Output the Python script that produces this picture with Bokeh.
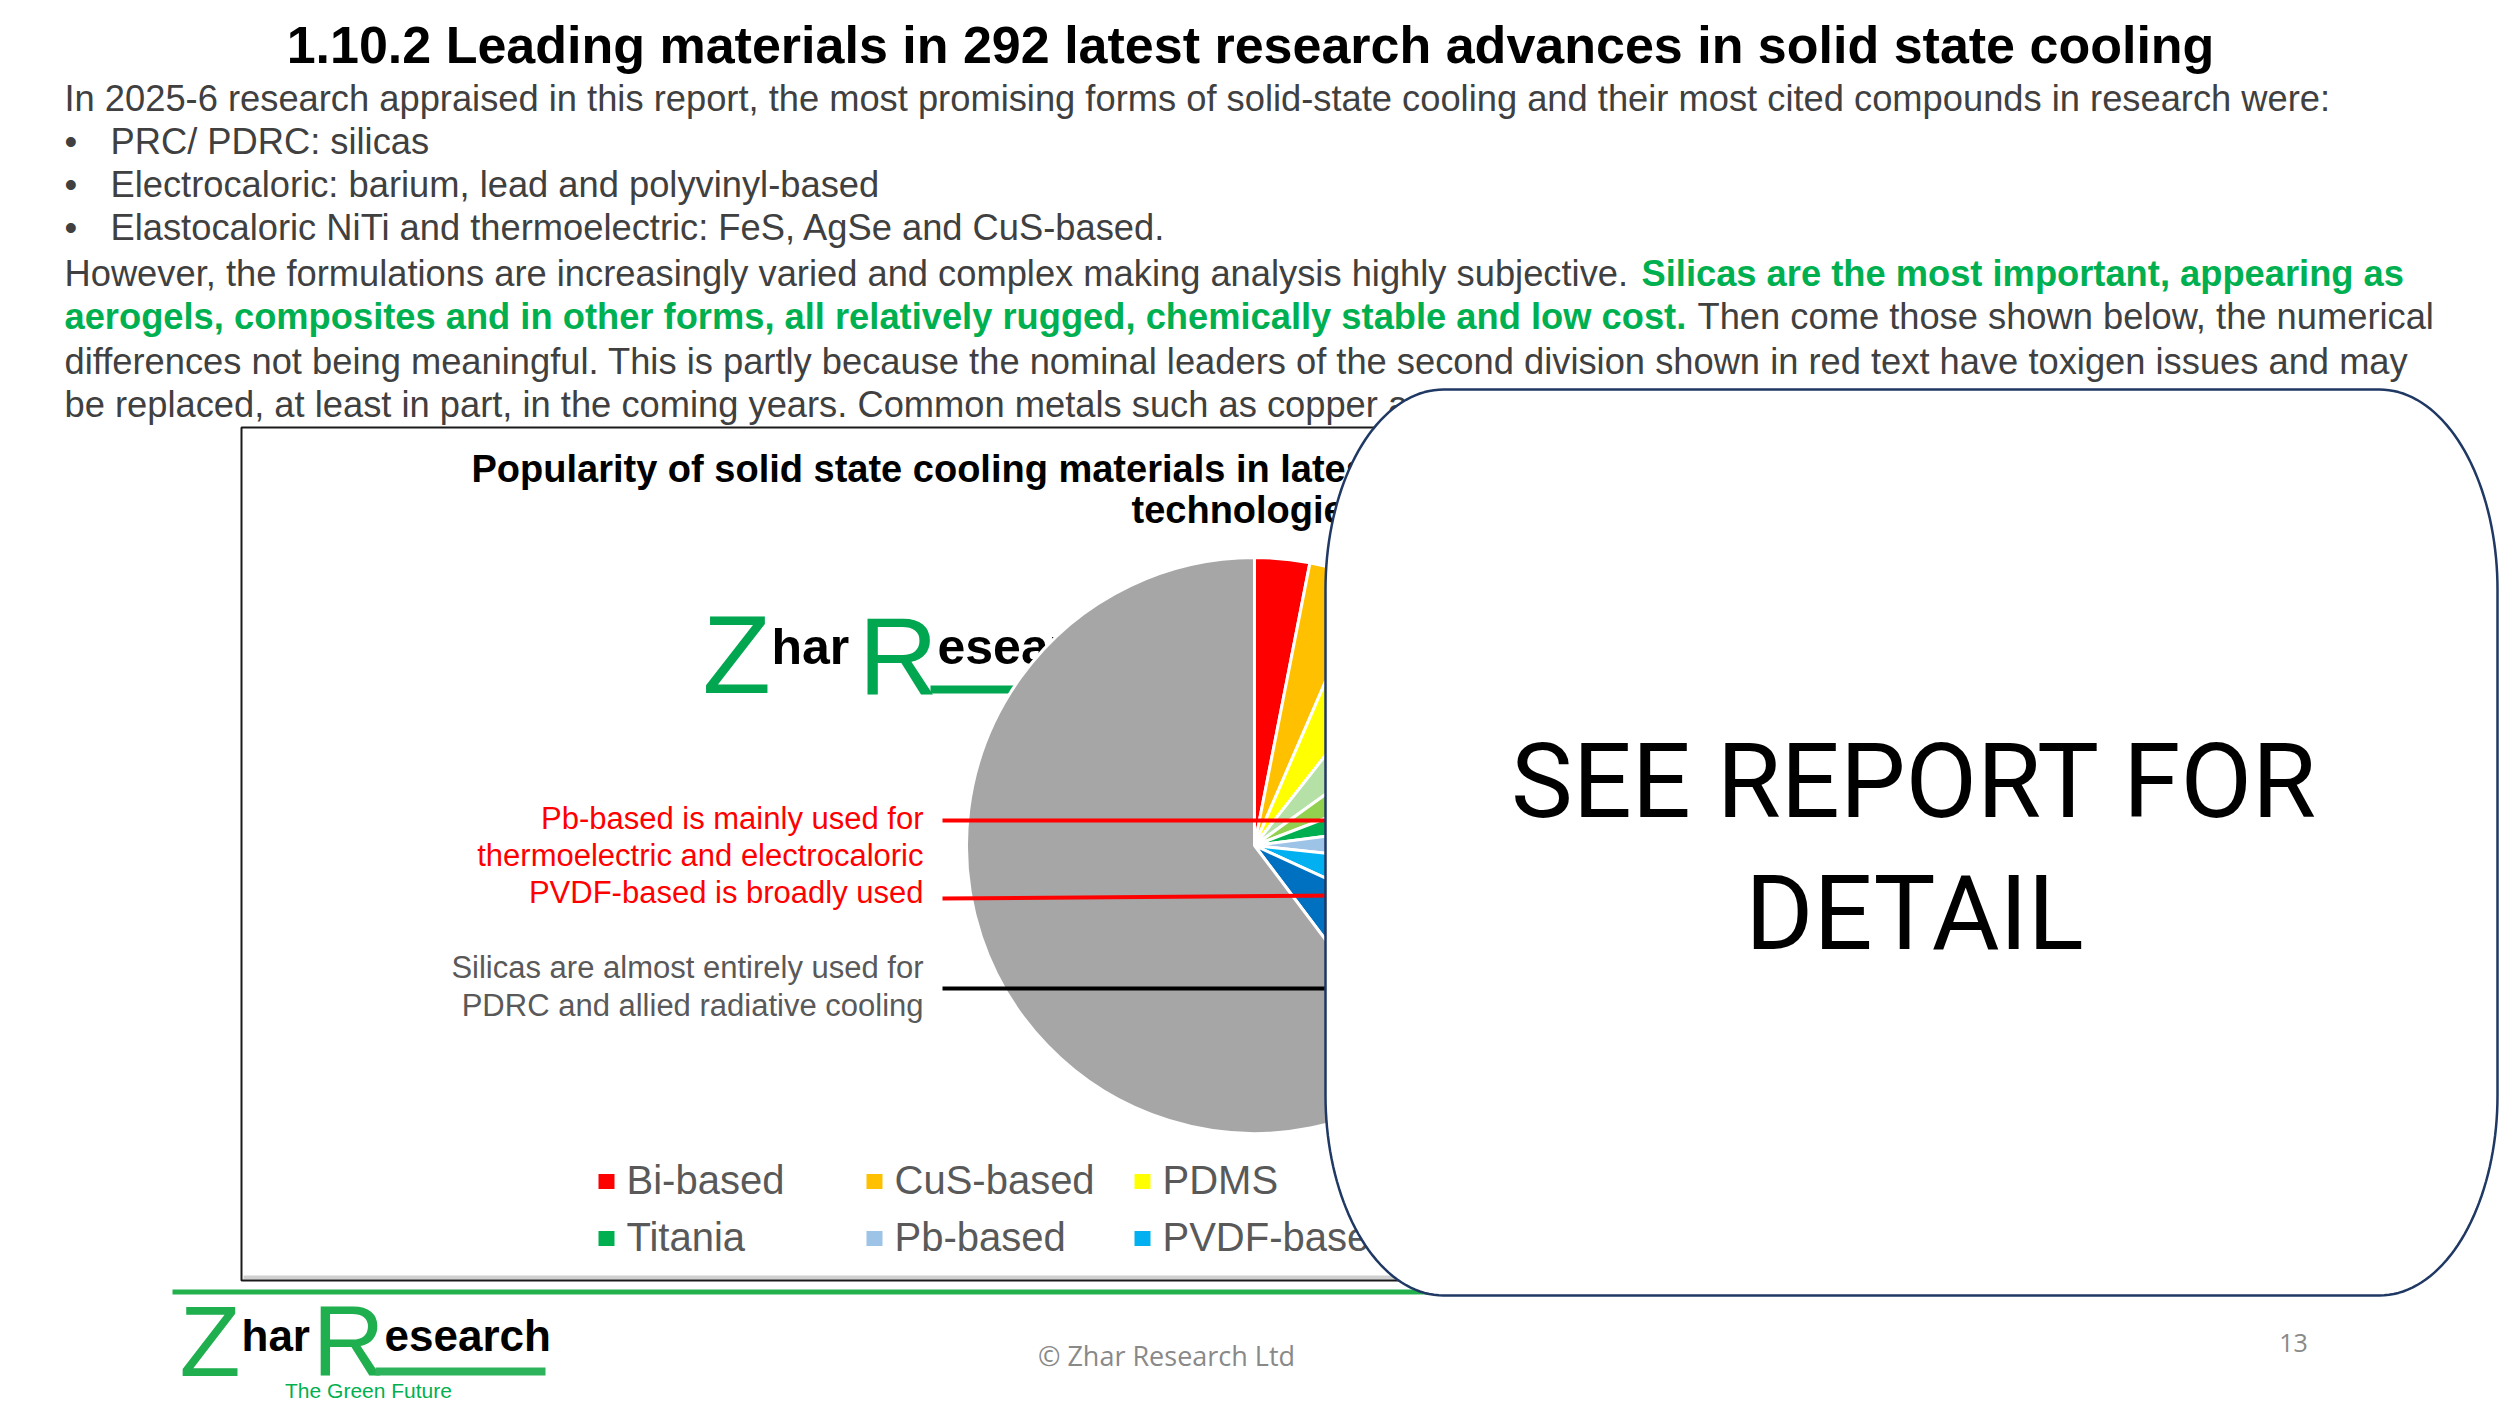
import numpy as np
from bokeh.plotting import figure
from bokeh.models import Range1d, ColumnDataSource
from bokeh.core.properties import value
from bokeh.embed import file_html
from bokeh.resources import INLINE

W, H = 2500, 1406

# ---------------- data ----------------
materials = ["Bi-based", "CuS-based", "PDMS", "AgSe-based", "FeS-based",
             "Titania", "Pb-based", "PVDF-based", "Ba-based", "Silicas"]
papers = [9, 10, 12, 13, 12, 11, 11, 15, 23, 176]
colors = ["#FF0000", "#FFC000", "#FFFF00", "#B5E1A6", "#92D050",
          "#00B050", "#9DC3E6", "#00B0F0", "#0070C0", "#A6A6A6"]

slide_title = "1.10.2 Leading materials in 292 latest research advances in solid state cooling"
intro = ("In 2025-6 research appraised in this report, the most promising forms of "
         "solid-state cooling and their most cited compounds in research were:")
bullets = ["PRC/ PDRC: silicas",
           "Electrocaloric: barium, lead and polyvinyl-based",
           "Elastocaloric NiTi and thermoelectric: FeS, AgSe and CuS-based."]
line5a = "However, the formulations are increasingly varied and complex making analysis highly subjective."
line5b = "Silicas are the most important, appearing as"
line6a = "aerogels, composites and in other forms, all relatively rugged, chemically stable and low cost."
line6b = "Then come those shown below, the numerical"
line7 = ("differences not being meaningful. This is partly because the nominal leaders of the "
         "second division shown in red text have toxigen issues and may")
line8 = ("be replaced, at least in part, in the coming years. Common metals such as copper "
         "and aluminium are also used.")
chart_title = ["Popularity of solid state cooling materials in latest research for all cooling",
               "technologies"]
red_notes = ["Pb-based is mainly used for", "thermoelectric and electrocaloric",
             "PVDF-based is broadly used"]
grey_notes = ["Silicas are almost entirely used for", "PDRC and allied radiative cooling"]


def Y(v):
    return H - v


F = value("Liberation Sans")
BODY = "#404040"
SHIFT = 0.35  # baseline calibration (fraction of font size)

p = figure(width=W, height=H, x_range=Range1d(0, W), y_range=Range1d(0, H),
           output_backend="svg", toolbar_location=None, min_border=0,
           x_axis_type=None, y_axis_type=None)
p.grid.visible = False
p.outline_line_color = None
p.background_fill_color = "white"
p.border_fill_color = "white"


def txt(x, y, t, size, color=BODY, align="left", bold=False, font=F):
    p.text(x=[x], y=[Y(y - SHIFT * size)], text=[t], text_font=font,
           text_font_size=f"{size}px", text_color=color, text_align=align,
           text_baseline="alphabetic",
           text_font_style="bold" if bold else "normal")


# ---------------- slide header text ----------------
BS = 36.3
txt(1250, 63, slide_title, 52, color="black", align="center", bold=True)
txt(64, 111, intro, BS)
for i, b in enumerate(bullets):
    yb = [154, 197, 240][i]
    txt(64, yb, "\u2022", BS)
    txt(110, yb, b, BS)
txt(64, 286, line5a, BS)
txt(1641, 286, line5b, BS, color="#00B050", bold=True)
txt(64, 329, line6a, BS, color="#00B050", bold=True)
txt(1697, 329, line6b, BS)
txt(64, 374, line7, BS)
txt(64, 417, line8, BS)

# ---------------- chart frame ----------------
fx0, fx1, fy0, fy1 = 241, 1420, 427, 1280
p.line(x=[fx0 + 2, fx1], y=[Y(fy1 - 3)] * 2, line_color="#D0D0D0", line_width=4)
p.patch(x=[fx0, fx1, fx1, fx0], y=[Y(fy0), Y(fy0), Y(fy1), Y(fy1)],
        fill_color=None, line_color="#1A1A1A", line_width=2)

txt(471, 482, chart_title[0], 38, color="black", bold=True)
txt(1131, 523, chart_title[1], 38, color="black", bold=True)

# logo inside chart
txt(702, 693, "Z", 112, color="#00A650")
txt(771, 664, "har", 50, color="black", bold=True)
txt(858, 693, "R", 110, color="#00A650")
txt(937, 664, "esearch", 50, color="black", bold=True)
p.quad(left=[930], right=[1100], top=[Y(685)], bottom=[Y(693)], fill_color="#00A650", line_color=None)
p.quad(left=[1100], right=[1129], top=[Y(685)], bottom=[Y(693)], fill_color="#3AD69A", line_color=None)

# ---------------- pie ----------------
frac = np.array(papers, dtype=float) / sum(papers)
cum = np.concatenate([[0.0], np.cumsum(frac)])
src = ColumnDataSource(dict(start=np.pi / 2 - 2 * np.pi * cum[:-1],
                            end=np.pi / 2 - 2 * np.pi * cum[1:],
                            color=colors, material=materials, papers=papers))
p.wedge(x=1254, y=Y(845), radius=288, start_angle="start", end_angle="end",
        direction="clock", fill_color="color", line_color="white", line_width=3, source=src)

# annotations
for i, t in enumerate(red_notes):
    txt(923, [829, 866, 903][i], t, 31, color="#FF0000", align="right")
for i, t in enumerate(grey_notes):
    txt(923, [978, 1016][i], t, 31, color="#595959", align="right")
p.line(x=[942, 1340], y=[Y(820), Y(820)], line_color="#FF0000", line_width=4)
p.line(x=[942, 1340], y=[Y(898), Y(895)], line_color="#FF0000", line_width=4)
p.line(x=[942, 1340], y=[Y(988), Y(988)], line_color="black", line_width=4)

# legend (two rows of five)
LS = 40
lx = [598 + 268 * (i % 5) for i in range(len(materials))]
ly = [[1181, 1238][i // 5] for i in range(len(materials))]
p.rect(x=[v + 8 for v in lx], y=[Y(v) for v in ly], width=16, height=15,
       fill_color=colors, line_color=None)
p.text(x=[v + 28 for v in lx], y=[Y(v + 12 - SHIFT * LS) for v in ly], text=materials,
       text_font=F, text_font_size=f"{LS}px", text_color="#595959",
       text_align="left", text_baseline="alphabetic")

# ---------------- footer ----------------
p.quad(left=[172], right=[1500], top=[Y(1289)], bottom=[Y(1294)], fill_color="#22B14C", line_color=None)
txt(179, 1375, "Z", 100, color="#1FAF4F")
txt(241, 1350, "har", 44, color="black", bold=True)
txt(312, 1375, "R", 100, color="#1FAF4F")
txt(384, 1350, "esearch", 44, color="black", bold=True)
p.quad(left=[375], right=[545], top=[Y(1367)], bottom=[Y(1375)], fill_color="#2DB35C", line_color=None)
txt(368, 1397, "The Green Future", 21, color="#00B050", align="center")
txt(1166, 1364, "\u00a9 Zhar Research Ltd", 27, color="#898989", align="center", font=value("Open Sans"))
txt(2293, 1351, "13", 25, color="#898989", align="center", font=value("Open Sans"))

# ---------------- overlay box ----------------
def rounded(x0, x1, y0, y1, rx, ry, n=40):
    xs, ys = [], []
    for cx, cy, a0, a1 in [(x1 - rx, y0 + ry, -90, 0), (x1 - rx, y1 - ry, 0, 90),
                           (x0 + rx, y1 - ry, 90, 180), (x0 + rx, y0 + ry, 180, 270)]:
        t = np.radians(np.linspace(a0, a1, n))
        xs.extend(cx + rx * np.cos(t))
        ys.extend(Y(cy + ry * np.sin(t)))
    return xs, ys


ox, oy = rounded(1325, 2497, 389, 1295, 118, 200)
p.patch(x=ox, y=oy, fill_color="white", line_color="#1F3864", line_width=2.5)
txt(1914, 817, "SEE REPORT FOR", 104, color="black", align="center", font=value("Roboto"))
txt(1914, 949, "DETAIL", 104, color="black", align="center", font=value("Roboto"))

open("out.html", "w").write(file_html(p, INLINE))
